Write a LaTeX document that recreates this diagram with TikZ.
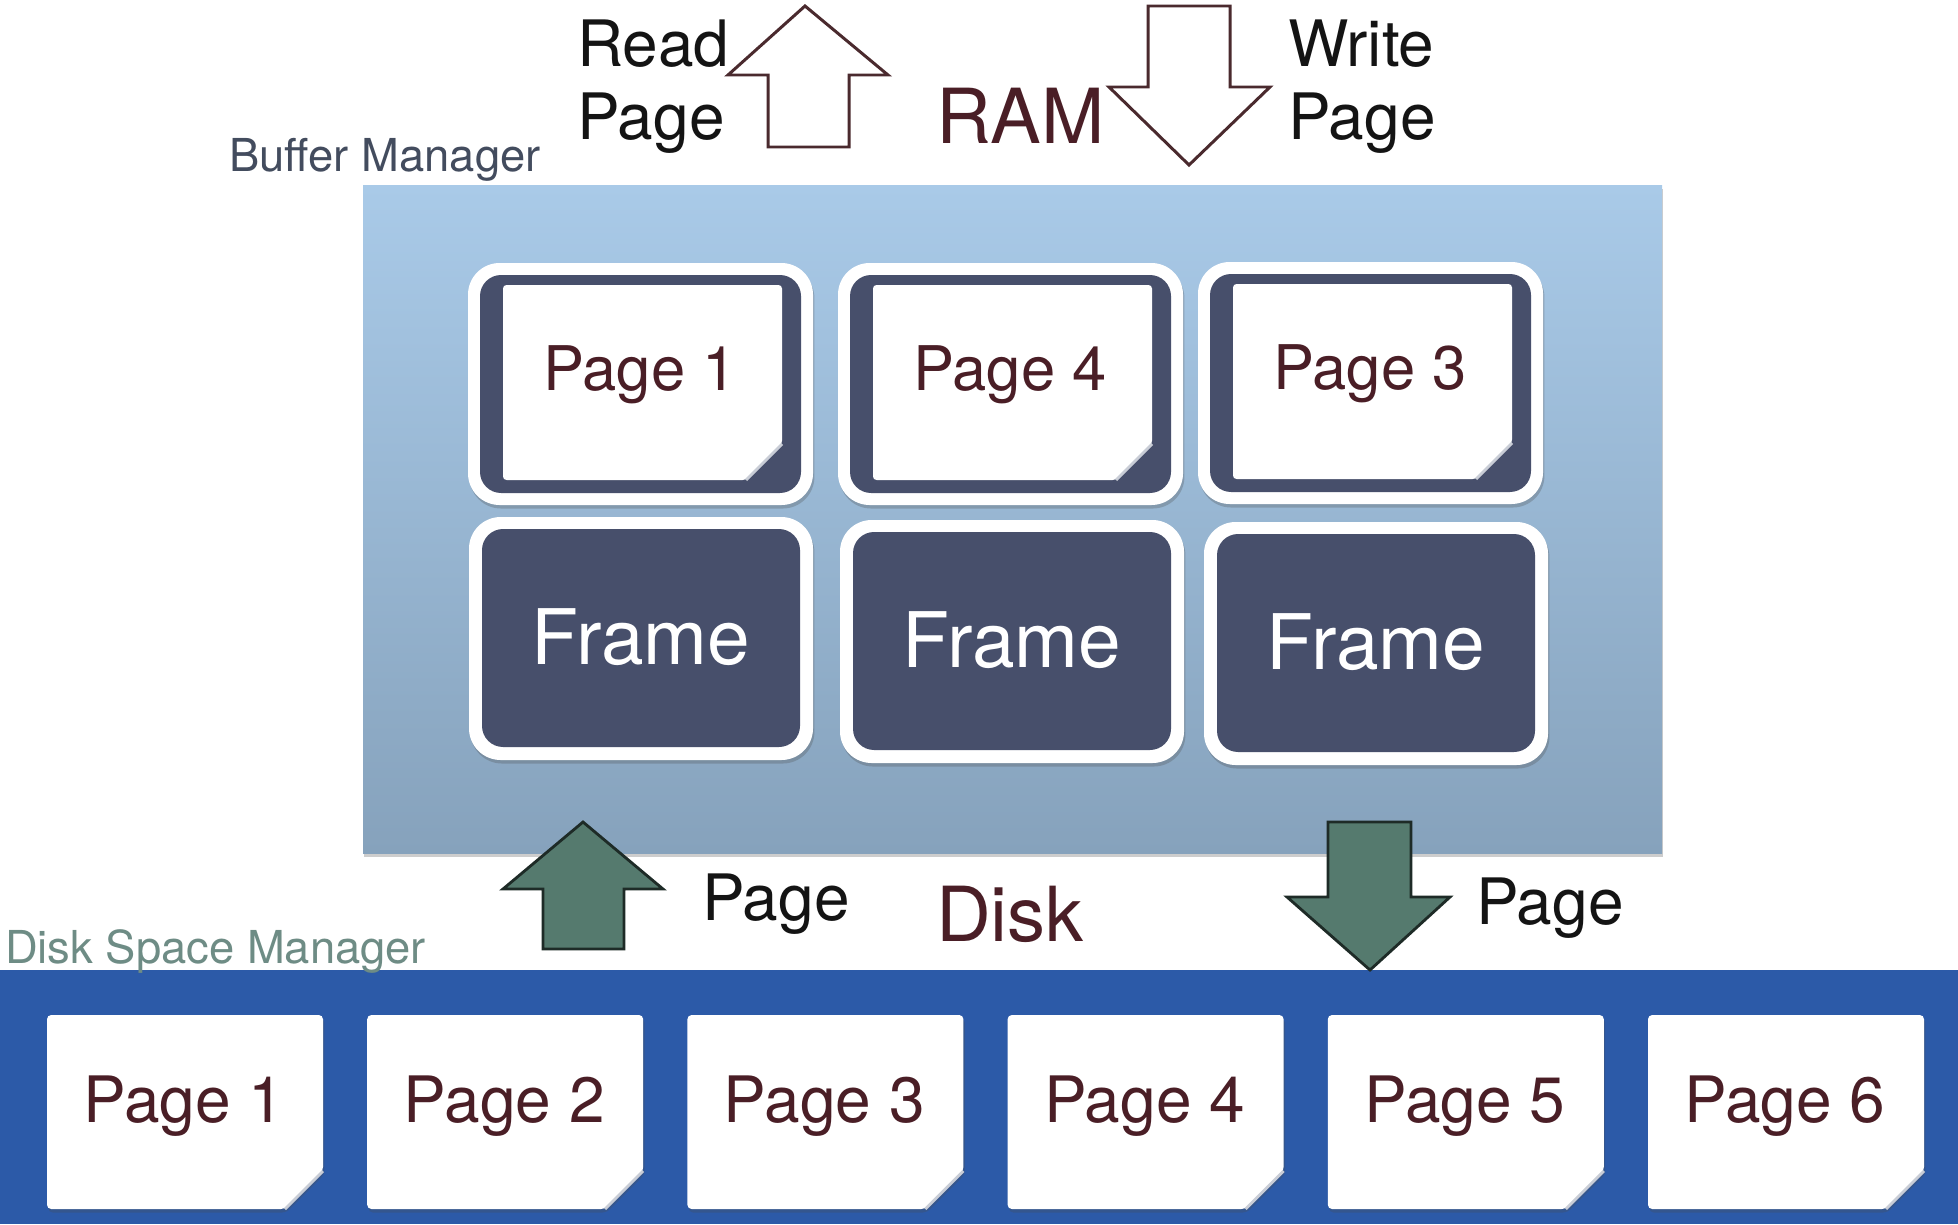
\documentclass[tikz,border=0pt]{standalone}
\usepackage{fontspec}
\setmainfont{TeX Gyre Heros}
\usetikzlibrary{shadows}
\definecolor{frameDark}{HTML}{474F6B}
\definecolor{bufTop}{HTML}{A9CAE8}
\definecolor{bufBot}{HTML}{86A2BC}
\definecolor{diskBlue}{HTML}{2C5AA8}
\definecolor{maroon}{HTML}{4A1E26}
\definecolor{greenFill}{HTML}{557A6E}
\definecolor{greenLine}{HTML}{1E2B27}
\definecolor{outLine}{HTML}{4A2A2E}
\definecolor{slateLbl}{HTML}{434C5E}
\definecolor{tealLbl}{HTML}{6E8C85}
\definecolor{foldLine}{HTML}{C9CDD6}
\begin{document}
\begin{tikzpicture}[x=0.01cm,y=-0.01cm,
  txt/.style={inner sep=0pt,outer sep=0pt},
  bigtxt/.style={txt,text=black!92,font=\fontsize{18.2}{20}\selectfont},
  maroontxt/.style={txt,text=maroon,font=\fontsize{21.6}{24}\selectfont},
  mgrtxt/.style={txt,font=\fontsize{12.9}{14}\selectfont},
  pgtxt/.style={txt,text=maroon,font=\fontsize{17.5}{19}\selectfont},
  diskpgtxt/.style={txt,text=maroon,font=\fontsize{18.2}{20}\selectfont},
  frametxt/.style={txt,text=white,font=\fontsize{21.8}{24}\selectfont},
  outarrow/.style={draw=outLine,fill=white,line width=0.85pt,line join=miter},
  greenarrow/.style={draw=greenLine,fill=greenFill,line width=0.8pt,line join=miter},
  softshadow/.style={drop shadow={shadow xshift=0.4pt,shadow yshift=-1.0pt,opacity=0.28,fill=black!70}}
]
\useasboundingbox (0,0) rectangle (1958,1224);
\fill[white] (0,0) rectangle (1958,1224);

% ---------- Buffer manager area ----------
\path[softshadow, top color=bufTop, bottom color=bufBot] (363,185) rectangle (1662,853);
\node[mgrtxt,text=slateLbl,anchor=base west] (bufmgr) at (229,171) {Buffer Manager};

% frames
\foreach \c/\tx/\ty/\bx/\by/\num in {1/468/263/469/517/1, 2/838/263/840/520/4, 3/1198/262/1204/522/3}{
  % top: frame holding a page
  \fill[white, rounded corners=9pt, softshadow] (\tx,\ty) rectangle ++(345,242);
  \fill[frameDark, rounded corners=6pt] (\tx+12,\ty+12) rectangle ++(321,218);
  \fill[white, rounded corners=1pt] (\tx+35,\ty+22) -- (\tx+314,\ty+22) -- (\tx+314,\ty+181)
      -- (\tx+278,\ty+217) -- (\tx+35,\ty+217) -- cycle;
  \draw[foldLine, line width=0.8pt] (\tx+314,\ty+181) -- (\tx+278,\ty+217);
  \node[pgtxt, anchor=base] (fp\c) at (\tx+172,\ty+127) {Page \num};
  % bottom: empty frame
  \fill[white, rounded corners=9pt, softshadow] (\bx,\by) rectangle ++(344,243);
  \fill[frameDark, rounded corners=6pt] (\bx+13,\by+12) rectangle ++(318,218);
  \node[frametxt, anchor=base] (fr\c) at (\bx+172,\by+147) {Frame};
}

% ---------- top labels and outline arrows ----------
\node[bigtxt,anchor=base west] (readl) at (577,67) {Read};
\node[bigtxt,anchor=base west] (readp) at (577,139) {Page};
\draw[outarrow] (805,6) -- (888,75) -- (849,75) -- (849,147) -- (768,147) -- (768,75) -- (728,75) -- cycle;
\node[maroontxt,anchor=base west] (ram) at (936,143) {RAM};
\draw[outarrow] (1148,6) -- (1230,6) -- (1230,87) -- (1270,87) -- (1189,165) -- (1109,87) -- (1148,87) -- cycle;
\node[bigtxt,anchor=base west] (writel) at (1288,67) {Write};
\node[bigtxt,anchor=base west] (writep) at (1288,139) {Page};

% ---------- disk area ----------
\fill[diskBlue] (0,970) rectangle (1958,1224);
\node[mgrtxt,text=tealLbl,anchor=base west] (dsm) at (5,963) {Disk Space Manager};

\foreach \i [count=\n] in {0,...,5}{
  \pgfmathsetmacro\xa{47+320.2*\i}
  \pgfmathsetmacro\xb{\xa+276}
  \fill[white, rounded corners=1.2pt, softshadow] (\xa,1015) -- (\xb,1015) -- (\xb,1171)
      -- (\xb-38,1209) -- (\xa,1209) -- cycle;
  \draw[foldLine, line width=0.8pt] (\xb,1171) -- (\xb-38,1209);
  \node[diskpgtxt, anchor=base] (dp\n) at (\xa+137,1122) {Page \n};
}

% ---------- green arrows and labels ----------
\draw[greenarrow] (583,822) -- (663,889) -- (624,889) -- (624,949) -- (543,949) -- (543,889) -- (503,889) -- cycle;
\node[bigtxt,anchor=base west] (pgup) at (702,920) {Page};
\node[maroontxt,anchor=base west] (disk) at (936,941) {Disk};
\draw[greenarrow] (1328,822) -- (1411,822) -- (1411,897) -- (1450,897) -- (1370,970) -- (1287,897) -- (1328,897) -- cycle;
\node[bigtxt,anchor=base west] (pgdown) at (1476,924) {Page};
\end{tikzpicture}
\end{document}
